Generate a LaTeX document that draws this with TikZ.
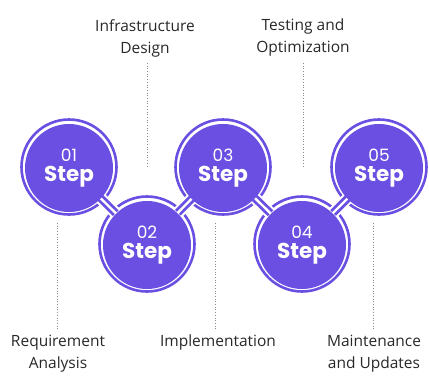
\documentclass[tikz,border=0pt]{standalone}
\usepackage{fontspec}
\setmainfont{Open Sans}
\newfontfamily\stepfont{Poppins}
\usetikzlibrary{positioning,calc}
\definecolor{stepviolet}{RGB}{106,79,226}
\definecolor{labelgray}{RGB}{40,40,40}
\tikzset{
  step disk/.style={circle, fill=stepviolet, minimum size=88pt, inner sep=0pt,
    text=white, align=center},
  step ring/.style={draw=stepviolet, line width=2.6pt},
  step label/.style={text=labelgray, align=center, inner sep=1pt,
    font=\fontsize{15.5}{22}\selectfont},
  guide/.style={draw=gray!90, dotted, line width=0.7pt},
}
\newcommand{\stepnum}[1]{{\stepfont\fontsize{17}{17}\selectfont #1}\\[4pt]{\stepfont\bfseries\fontsize{21.5}{22}\selectfont Step}}

\begin{document}
\begin{tikzpicture}[x=1pt,y=-1pt]
    \useasboundingbox (0,0) rectangle (429,381);

    \foreach \n/\x/\y in {01/69/167, 02/147/244, 03/223/167, 04/302/244, 05/379/167}
      \coordinate (c\n) at (\x,\y);

    % outer rings
    \foreach \n in {01,02,03,04,05}
      \draw[step ring] (c\n) circle[radius=47.5];

    % pipes between the rings
    \foreach \a/\b in {01/02, 02/03, 03/04, 04/05} {
      \draw[white, line width=12pt] ($(c\a)!44pt!(c\b)$) -- ($(c\b)!44pt!(c\a)$);
      \draw[stepviolet, line width=8pt] ($(c\a)!44pt!(c\b)$) -- ($(c\b)!44pt!(c\a)$);
      \draw[white, line width=2.4pt] ($(c\a)!43pt!(c\b)$) -- ($(c\b)!43pt!(c\a)$);
    }

    \foreach \n in {01,02,03,04,05}
      \node[step disk, yshift=-1pt] (s\n) at (c\n) {\stepnum{\n}};

    % labels above
    \node[step label, anchor=north] (infra) at (145,18) {Infrastructure\\Design};
    \node[step label, anchor=north] (testing) at (303,18) {Testing and\\Optimization};
    \coordinate (infra end) at (147,166);
    \coordinate (testing end) at (303,166);
    \draw[guide] (infra.south -| infra end) ++(0,5) -- (infra end);
    \draw[guide] (testing.south -| testing end) ++(0,5) -- (testing end);

    % labels below
    \node[step label, anchor=north] (req) at (58,334) {Requirement\\Analysis};
    \node[step label, anchor=north] (impl) at (218,334) {Implementation};
    \node[step label, anchor=north] (maint) at (374,334) {Maintenance\\and Updates};
    \coordinate (req top) at (57,223);
    \coordinate (impl top) at (215,223);
    \coordinate (maint top) at (373,223);
    \draw[guide] (req top) -- ($(req.north -| req top)+(0,-4)$);
    \draw[guide] (impl top) -- ($(impl.north -| impl top)+(0,-4)$);
    \draw[guide] (maint top) -- ($(maint.north -| maint top)+(0,-4)$);
\end{tikzpicture}
\end{document}
